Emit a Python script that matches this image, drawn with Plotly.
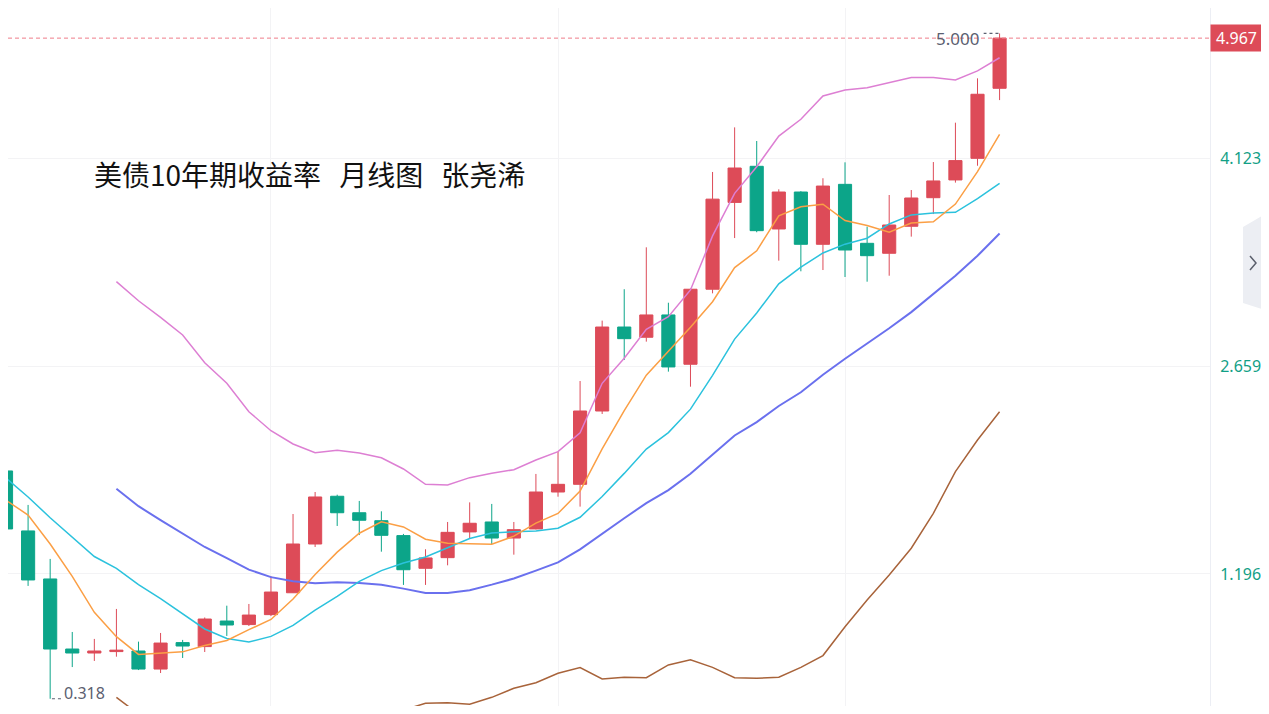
import pandas as pd
import plotly.graph_objects as go

# 美债10年期收益率 月线 2020-01 .. 2023-10
months = pd.date_range("2020-01-01", periods=46, freq="MS").strftime("%Y-%m").tolist()

opens = [1.921, 1.499, 1.161, 0.668, 0.640, 0.650, 0.654, 0.527, 0.713, 0.685,
         0.865, 0.840, 0.910, 1.064, 1.407, 1.743, 1.627, 1.571, 1.466, 1.236,
         1.311, 1.492, 1.562, 1.449, 1.513, 1.773, 1.827, 2.343, 2.934, 2.862,
         3.019, 2.672, 3.200, 3.811, 4.065, 3.624, 3.884, 3.516, 3.938, 3.523,
         3.453, 3.643, 3.844, 3.969, 4.121, 4.614]
highs = [1.942, 1.682, 1.302, 0.788, 0.739, 0.950, 0.720, 0.781, 0.732, 0.890,
         0.973, 0.985, 1.182, 1.618, 1.773, 1.754, 1.710, 1.637, 1.478, 1.370,
         1.562, 1.700, 1.689, 1.562, 1.900, 2.057, 2.554, 2.979, 3.200, 3.495,
         3.105, 3.205, 4.025, 4.339, 4.243, 3.903, 3.890, 3.981, 4.093, 3.640,
         3.863, 3.898, 4.095, 4.372, 4.684, 5.000]
lows = [1.499, 1.112, 0.318, 0.541, 0.584, 0.614, 0.520, 0.499, 0.605, 0.647,
        0.760, 0.830, 0.900, 1.062, 1.386, 1.534, 1.470, 1.353, 1.119, 1.119,
        1.257, 1.447, 1.407, 1.332, 1.510, 1.740, 1.670, 2.322, 2.702, 2.831,
        2.620, 2.514, 3.171, 3.560, 3.601, 3.401, 3.326, 3.335, 3.286, 3.253,
        3.295, 3.570, 3.729, 3.950, 4.069, 4.531]
closes = [1.513, 1.154, 0.668, 0.640, 0.654, 0.660, 0.527, 0.710, 0.689, 0.879,
          0.837, 0.907, 1.069, 1.407, 1.738, 1.627, 1.574, 1.468, 1.226, 1.309,
          1.489, 1.553, 1.449, 1.508, 1.773, 1.827, 2.343, 2.934, 2.852, 3.019,
          2.653, 3.200, 3.834, 4.053, 3.612, 3.884, 3.516, 3.926, 3.476, 3.436,
          3.652, 3.842, 3.962, 4.105, 4.572, 4.967]

ma5 = [1.715, 1.611, 1.407, 1.179, 0.926, 0.755, 0.630, 0.638, 0.648, 0.693,
       0.728, 0.804, 0.876, 1.020, 1.192, 1.350, 1.483, 1.563, 1.527, 1.441,
       1.413, 1.409, 1.405, 1.462, 1.554, 1.622, 1.780, 2.077, 2.346, 2.595,
       2.760, 2.932, 3.112, 3.352, 3.470, 3.717, 3.780, 3.798, 3.683, 3.648,
       3.601, 3.666, 3.674, 3.799, 4.027, 4.290]
ma10 = [1.872, 1.738, 1.592, 1.456, 1.319, 1.235, 1.121, 1.023, 0.914, 0.809,
        0.742, 0.717, 0.757, 0.834, 0.942, 1.039, 1.144, 1.220, 1.273, 1.316,
        1.381, 1.446, 1.484, 1.494, 1.498, 1.518, 1.595, 1.741, 1.904, 2.075,
        2.191, 2.356, 2.594, 2.849, 3.033, 3.238, 3.356, 3.455, 3.517, 3.559,
        3.659, 3.723, 3.736, 3.741, 3.837, 3.945]
# 布林带 (前5个月无值)
boll_mid = [None] * 5 + [
    1.796, 1.673, 1.575, 1.478, 1.386, 1.307, 1.227, 1.174, 1.145, 1.131,
    1.137, 1.132, 1.121, 1.093, 1.063, 1.062, 1.082, 1.121, 1.164, 1.220,
    1.278, 1.369, 1.480, 1.588, 1.695, 1.786, 1.901, 2.039, 2.171, 2.265,
    2.378, 2.475, 2.598, 2.711, 2.817, 2.925, 3.039, 3.165, 3.295, 3.435, 3.592]
boll_up = [None] * 5 + [
    3.253, 3.119, 3.002, 2.878, 2.683, 2.538, 2.338, 2.204, 2.111, 2.050,
    2.066, 2.048, 2.014, 1.935, 1.827, 1.822, 1.874, 1.905, 1.930, 1.998,
    2.057, 2.190, 2.538, 2.714, 2.918, 3.007, 3.195, 3.575, 3.875, 4.062,
    4.278, 4.396, 4.560, 4.602, 4.618, 4.656, 4.690, 4.690, 4.672, 4.736, 4.829]
boll_low = [None] * 5 + [
    0.328, 0.210, 0.150, 0.080, 0.090, 0.080, 0.120, 0.140, 0.170, 0.200,
    0.195, 0.205, 0.220, 0.239, 0.286, 0.290, 0.279, 0.328, 0.392, 0.431,
    0.497, 0.537, 0.457, 0.469, 0.466, 0.556, 0.593, 0.539, 0.466, 0.462,
    0.469, 0.539, 0.622, 0.825, 1.013, 1.189, 1.377, 1.623, 1.916, 2.139, 2.338]

y_ticks = [1.196, 2.659, 4.123]
grid_months = ["2021-01", "2022-02", "2023-03"]
last_price = 4.967

RED = "#dd4b58"
GREEN = "#0ca589"

# 页面 body 默认有 8px 外边距, 图整体收小, 避免出现滚动条
W, H = 1253, 698
PLOT_W, PLOT_H = 1202, 698


def px(x):
    return (x - 8) / PLOT_W


def py(y):
    return 1 - (y - 8) / PLOT_H


fig = go.Figure()

fig.add_trace(go.Candlestick(
    x=months, open=opens, high=highs, low=lows, close=closes,
    increasing=dict(line=dict(color=RED, width=1), fillcolor=RED),
    decreasing=dict(line=dict(color=GREEN, width=1), fillcolor=GREEN),
    whiskerwidth=0, showlegend=False, hoverinfo="skip",
))

lines = [
    (boll_low, "#a8633a", 1.5),
    (boll_up, "#dd7fd3", 1.5),
    (boll_mid, "#6a70ee", 2),
    (ma10, "#2bc2dd", 1.5),
    (ma5, "#fb9f45", 1.5),
]
for vals, color, w in lines:
    fig.add_trace(go.Scatter(x=months, y=vals, mode="lines",
                             line=dict(color=color, width=w),
                             showlegend=False, hoverinfo="skip"))

# 最新价虚线
fig.add_shape(type="line", xref="paper", x0=0, x1=1, yref="y",
              y0=last_price, y1=last_price,
              line=dict(color="#ef7d89", width=1, dash="4px,3px"))

# 最高/最低标注
i_hi = highs.index(max(highs))
i_lo = lows.index(min(lows))
fig.add_shape(type="line", xref="x", yref="y",
              x0=i_hi - 0.05, x1=i_hi - 0.72, y0=highs[i_hi], y1=highs[i_hi],
              line=dict(color="#5b6070", width=1.2, dash="dot"))
fig.add_annotation(x=i_hi - 0.82, y=highs[i_hi], xref="x", yref="y",
                   text=f"{highs[i_hi]:.3f}", showarrow=False,
                   xanchor="right", yanchor="middle", yshift=-5,
                   font=dict(family="Noto Sans", size=17, color="#5b6070"))
fig.add_shape(type="line", xref="x", yref="y",
              x0=i_lo + 0.08, x1=i_lo + 0.6, y0=lows[i_lo], y1=lows[i_lo],
              line=dict(color="#5b6070", width=1.2, dash="dot"))
# 底部留不下整行字, 标注略往上收
fig.add_annotation(x=i_lo + 0.6, y=lows[i_lo], xref="x", yref="y",
                   text=f"{lows[i_lo]:.3f}", showarrow=False,
                   xanchor="left", yanchor="middle", yshift=6, borderpad=0,
                   font=dict(family="Noto Sans", size=16, color="#5b6070"))

# 右侧价格标签
fig.add_annotation(x=1, y=last_price, xref="paper", yref="y",
                   text=f"{last_price:.3f}", showarrow=False,
                   xanchor="left", yanchor="middle",
                   width=W - PLOT_W - 2, height=24, bgcolor=RED, borderpad=1,
                   font=dict(family="Noto Sans", size=16, color="white"))

# 标题
fig.add_annotation(x=px(92), y=py(174), xref="paper", yref="paper",
                   text="美债10年期收益率\u00a0\u00a0\u2009月线图\u00a0\u00a0\u2009张尧浠",
                   showarrow=False, xanchor="left", yanchor="middle",
                   font=dict(family="Noto Sans CJK SC", size=28, color="#111111"))

# 右侧收起按钮
fig.add_shape(type="path", xref="paper", yref="paper", layer="above",
              path=f"M {px(1243)} {py(227)} L {px(1262)} {py(216)} "
                   f"L {px(1262)} {py(309)} L {px(1243)} {py(303)} Z",
              fillcolor="#eceef3", line=dict(width=0))
fig.add_shape(type="path", xref="paper", yref="paper", layer="above",
              path=f"M {px(1250)} {py(256)} L {px(1256)} {py(263)} L {px(1250)} {py(270)}",
              line=dict(color="#5a5f6b", width=1.5))

fig.update_layout(
    width=W, height=H,
    margin=dict(l=0, r=W - PLOT_W, t=0, b=0),
    paper_bgcolor="white", plot_bgcolor="white",
    boxgap=0.15,
    xaxis=dict(type="category", range=[0.09, 54.53], rangeslider=dict(visible=False),
               showticklabels=False, tickvals=grid_months, ticks="",
               showgrid=True, gridcolor="#f3f3f5", gridwidth=1, zeroline=False,
               showline=False),
    yaxis=dict(side="right", range=[0.267, 5.179], tickvals=y_ticks,
               ticktext=[f"{v:.3f}" for v in y_ticks], ticks="",
               tickfont=dict(family="Noto Sans", size=16, color="#12a086"),
               ticklabelstandoff=6,
               showgrid=True, gridcolor="#f3f3f5", gridwidth=1, zeroline=False,
               showline=True, linecolor="#eceef4", linewidth=1),
)

fig.write_html("out.html")
